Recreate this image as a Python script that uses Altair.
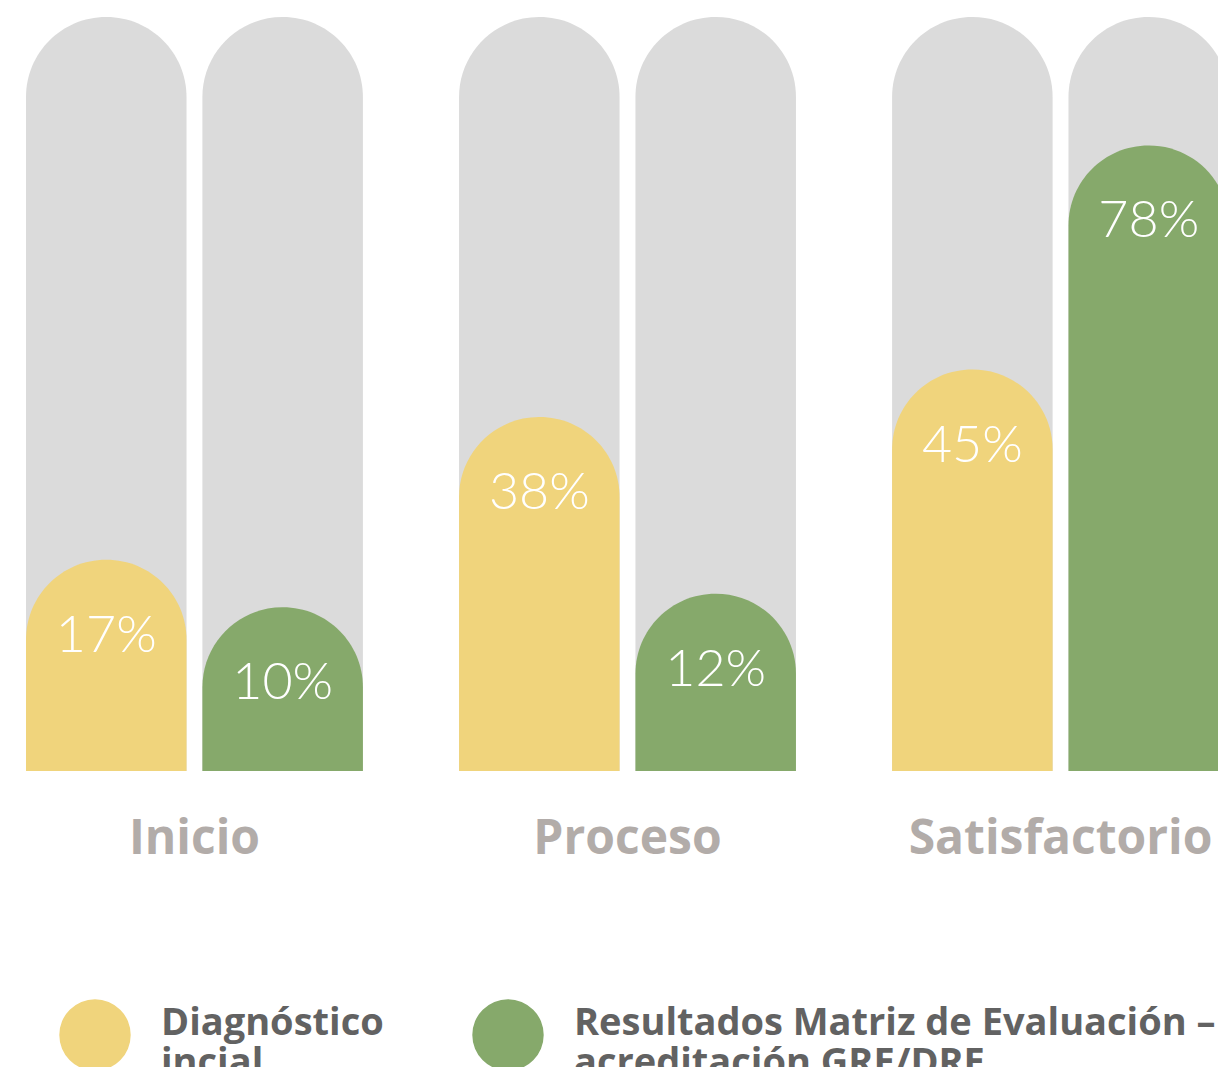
import altair as alt
import pandas as pd

categories = ["Inicio", "Proceso", "Satisfactorio"]
series = ["Diagnóstico|incial", "Resultados Matriz de Evaluación –|acreditación GRE/DRE"]
diagnostico = [17, 38, 45]
resultados = [10, 12, 78]
colors = ["#F0D47C", "#86A96B"]
track_color = "#DBDBDB"

rows = []
for i, c in enumerate(categories):
    rows.append({"cat": c, "serie": series[0], "valor": diagnostico[i], "label": f"{diagnostico[i]}%"})
    rows.append({"cat": c, "serie": series[1], "valor": resultados[i], "label": f"{resultados[i]}%"})
df = pd.DataFrame(rows)

y_min, y_max = -14.1, 96.9
yscale = alt.Scale(domain=[y_min, y_max], zero=False, nice=False)

# the last group runs past the right edge, as in the original
x = alt.X(
    "cat:N", sort=categories,
    scale=alt.Scale(paddingInner=0.222, paddingOuter=0, range=[0, 1203]),
    axis=alt.Axis(title=None, domain=False, ticks=False, labelFontSize=48, labelFont="Open Sans",
                  labelFontWeight="bold", labelColor="#B2ACA9", labelPadding=82, labelAngle=0,
                  labelBaseline="alphabetic", labelLimit=1000),
)
xoff = alt.XOffset("serie:N", sort=series, scale=alt.Scale(paddingInner=0.09, paddingOuter=0))

base = alt.Chart(df).transform_calculate(top=f"{y_max}", bottom=f"{y_min}")

track = base.mark_bar(color=track_color, cornerRadiusTopLeft=80, cornerRadiusTopRight=80).encode(
    x=x, xOffset=xoff,
    y=alt.Y("top:Q", scale=yscale, axis=None),
    y2="bottom:Q",
)

bars = base.mark_bar(cornerRadiusTopLeft=80, cornerRadiusTopRight=80).encode(
    x=x, xOffset=xoff,
    y=alt.Y("valor:Q", scale=yscale, axis=None),
    y2="bottom:Q",
    color=alt.Color(
        "serie:N", sort=series,
        scale=alt.Scale(domain=series, range=colors),
        legend=alt.Legend(
            title=None, orient="none", legendX=33, legendY=982, direction="horizontal",
            symbolType="circle", symbolSize=5100, symbolStrokeWidth=0, symbolOpacity=1,
            labelFontSize=38, labelFont="Open Sans", labelFontWeight="bold", labelColor="#626262",
            labelOffset=30, columnPadding=88, labelLimit=2000, padding=0,
            labelBaseline="alphabetic",
            labelExpr="split(datum.label, '|')",
        ),
    ),
)

labels = base.mark_text(color="white", fontSize=52, font="Lato", fontWeight=300,
                        baseline="middle", align="center", dy=76).encode(
    x=x, xOffset=xoff,
    y=alt.Y("valor:Q", scale=yscale, axis=None),
    text="label:N",
)

chart = alt.layer(track, bars, labels).properties(
    width=1192, height=754,
    padding={"left": 18, "top": 9, "right": 0, "bottom": 296},
    autosize=alt.AutoSizeParams(type="none"),
    background="white",
).configure_view(stroke=None)

chart.save("out.html", embed_options={"renderer": "svg", "actions": False})
